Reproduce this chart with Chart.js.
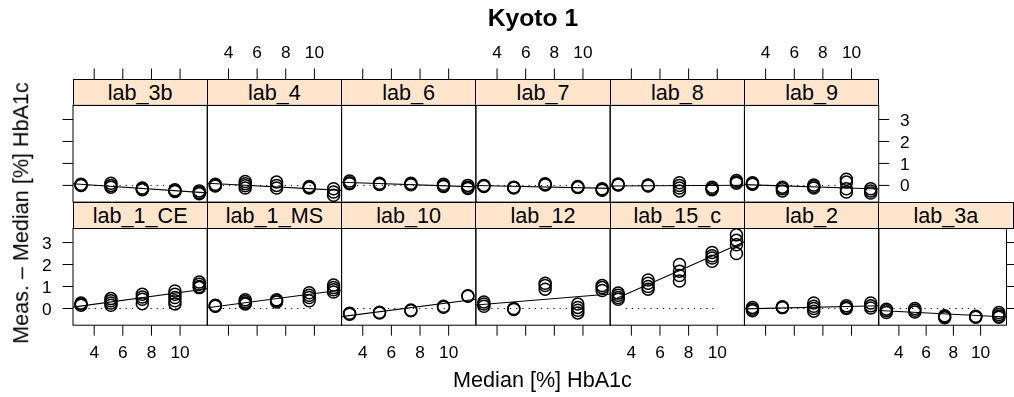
<!DOCTYPE html>
<html>
<head>
<meta charset="utf-8">
<script src="https://cdn.jsdelivr.net/npm/chart.js@4.4.1/dist/chart.umd.min.js"></script>
<style>
  html, body { margin: 0; padding: 0; background: #fff; }
  #fig { position: relative; width: 1014px; height: 397px; overflow: hidden;
         font-family: 'Liberation Sans', Arial, sans-serif; color: #000; }
  #fig canvas { position: absolute; left: 0; top: 0; }
  .strip { position: absolute; box-sizing: border-box; border: 1px solid #000;
           background: #ffe5cc; text-align: center; font-size: 21.6px; white-space: nowrap; }
  .lbl { position: absolute; white-space: nowrap; line-height: 1; }
</style>
</head>
<body>
<div id="fig"></div>
<script>
// median HbA1c of each sample (x position of the point groups)
const medianLevels = [3.08, 5.17, 7.36, 9.64, 11.34];
const xTicks = [4, 6, 8, 10];
const yTicks = [0, 1, 2, 3];

// measured - median, one inner list per sample
const lab_3b   = [[0.05, 0.02, 0.0], [0.1, 0.0, -0.08], [-0.12, -0.17, -0.2], [-0.2, -0.25, -0.28], [-0.25, -0.32, -0.38]];
const lab_4    = [[0.05, 0.0, -0.03], [0.18, 0.08, -0.02, -0.12], [0.15, 0.0, -0.12], [-0.05, -0.1, -0.12], [-0.15, -0.3, -0.45]];
const lab_6    = [[0.2, 0.12, 0.08], [0.1, 0.06, 0.04], [0.1, 0.05, 0.03], [0.05, -0.02, -0.05], [0.0, -0.08, -0.14]];
const lab_7    = [[0.0, -0.03, -0.05], [-0.08, -0.1, -0.12], [0.07, 0.04, 0.02], [-0.05, -0.08, -0.1], [-0.15, -0.2, -0.22]];
const lab_8    = [[0.06, 0.03, 0.02], [0.02, -0.01, -0.03], [0.12, 0.0, -0.12, -0.25], [-0.08, -0.15, -0.2], [0.22, 0.15, 0.1]];
const lab_9    = [[0.12, 0.08, 0.05], [-0.08, -0.15, -0.25], [0.02, -0.05, -0.12], [0.28, 0.15, -0.15, -0.3], [-0.15, -0.25, -0.35]];
const lab_1_CE = [[0.25, 0.2, 0.15], [0.45, 0.35, 0.25, 0.15], [0.65, 0.52, 0.42, 0.22], [0.8, 0.65, 0.5, 0.35, 0.21], [1.2, 1.1, 1.0, 0.95]];
const lab_1_MS = [[0.15, 0.12, 0.1], [0.4, 0.32, 0.25, 0.2], [0.4, 0.35, 0.3], [0.72, 0.6, 0.5, 0.35], [1.07, 0.95, 0.85, 0.75]];
const lab_10   = [[-0.22, -0.24, -0.26], [-0.17, -0.2], [-0.07, -0.1], [0.1, 0.06], [0.58, 0.56]];
const lab_12   = [[0.3, 0.2, 0.1], [0.0, -0.04], [1.15, 1.05, 0.88], [0.2, 0.05, -0.08, -0.2], [1.05, 0.95, 0.82]];
const lab_15_c = [[0.7, 0.6, 0.5, 0.42], [1.3, 1.15, 1.0, 0.88], [2.0, 1.7, 1.5, 1.25], [2.55, 2.4, 2.3, 2.15], [3.35, 3.1, 2.9, 2.5]];
const lab_2    = [[0.05, -0.03, -0.1], [0.08, 0.05, 0.04], [0.25, 0.1, 0.0, -0.12], [0.12, 0.05, 0.0], [0.25, 0.12, 0.02]];
const lab_3a   = [[-0.03, -0.1, -0.18], [0.0, -0.08, -0.16], [-0.33, -0.38, -0.42], [-0.35, -0.38, -0.4], [-0.18, -0.27, -0.35, -0.4]];

const topRowLabs    = ['lab_3b', 'lab_4', 'lab_6', 'lab_7', 'lab_8', 'lab_9'];
const bottomRowLabs = ['lab_1_CE', 'lab_1_MS', 'lab_10', 'lab_12', 'lab_15_c', 'lab_2', 'lab_3a'];
const labData = { lab_3b, lab_4, lab_6, lab_7, lab_8, lab_9,
                  lab_1_CE, lab_1_MS, lab_10, lab_12, lab_15_c, lab_2, lab_3a };

// panel scales and the dotted zero reference
const X_MIN = 2.52, X_MAX = 11.9, Y_MIN = -0.76, Y_MAX = 3.64;
const REF_FROM = 3.6, REF_TO = 10.0;

// layout (px)
const FIG_W = 1014, FIG_H = 397;
const PANEL_X0 = 73, PANEL_W = 134.29, PANEL_H = 96.7, STRIP_H = 26.4, STRIP_Y0 = 79;
const TICK = 10.5;
const FONT = '"Liberation Sans", Arial, sans-serif';

const fig = document.getElementById('fig');

function addLabel(text, css) {
  const d = document.createElement('div');
  d.className = 'lbl';
  d.textContent = text;
  Object.assign(d.style, css);
  fig.appendChild(d);
}

// simple least squares fit, like panel.lmline
function lmFit(pts) {
  const n = pts.length;
  const mx = pts.reduce((s, p) => s + p.x, 0) / n;
  const my = pts.reduce((s, p) => s + p.y, 0) / n;
  let sxy = 0, sxx = 0;
  pts.forEach(p => { sxy += (p.x - mx) * (p.y - my); sxx += (p.x - mx) ** 2; });
  const b = sxy / sxx;
  return { a: my - b * mx, b };
}

const latticePlugin = {
  id: 'lattice',
  afterDatasetsDraw(chart, args, opts) {
    const { ctx, chartArea: a, scales: { x, y } } = chart;
    ctx.save();
    ctx.strokeStyle = '#000';
    ctx.fillStyle = '#000';
    ctx.lineWidth = 1;
    ctx.strokeRect(a.left, a.top, a.right - a.left, a.bottom - a.top);

    ctx.font = '17.3px ' + FONT;
    ctx.textAlign = 'center';
    ctx.textBaseline = 'alphabetic';
    ctx.beginPath();
    if (opts.top) {
      const base = a.top - STRIP_H;
      xTicks.forEach(v => {
        const px = x.getPixelForValue(v);
        ctx.moveTo(px, base); ctx.lineTo(px, base - TICK);
        if (opts.top === 'labels') ctx.fillText(String(v), px, base - 20.7);
      });
    }
    if (opts.bottom) {
      xTicks.forEach(v => {
        const px = x.getPixelForValue(v);
        ctx.moveTo(px, a.bottom); ctx.lineTo(px, a.bottom + TICK);
        if (opts.bottom === 'labels') ctx.fillText(String(v), px, a.bottom + 33.1);
      });
    }
    if (opts.left) {
      yTicks.forEach(v => {
        const py = y.getPixelForValue(v);
        ctx.moveTo(a.left, py); ctx.lineTo(a.left - TICK, py);
        if (opts.left === 'labels') ctx.fillText(String(v), a.left - 26.3, py + 6.1);
      });
    }
    if (opts.right) {
      yTicks.forEach(v => {
        const py = y.getPixelForValue(v);
        ctx.moveTo(a.right, py); ctx.lineTo(a.right + TICK, py);
        if (opts.right === 'labels') ctx.fillText(String(v), a.right + 26, py + 6.1);
      });
    }
    ctx.stroke();
    ctx.restore();
  }
};

function makePanel(lab, row, col, axes) {
  const left = PANEL_X0 + col * PANEL_W;
  const stripTop = STRIP_Y0 + row * (STRIP_H + PANEL_H);
  const top = stripTop + STRIP_H;

  const strip = document.createElement('div');
  strip.className = 'strip';
  strip.textContent = lab;
  Object.assign(strip.style, {
    left: (left - 0.5) + 'px', top: (stripTop - 0.5) + 'px',
    width: (PANEL_W + 1) + 'px', height: (STRIP_H + 1) + 'px',
    lineHeight: (STRIP_H - 1) + 'px'
  });
  fig.appendChild(strip);

  const canvas = document.createElement('canvas');
  canvas.width = FIG_W; canvas.height = FIG_H;
  fig.appendChild(canvas);

  const pts = [];
  labData[lab].forEach((vals, i) => vals.forEach(v => pts.push({ x: medianLevels[i], y: v })));
  const fit = lmFit(pts);

  new Chart(canvas, {
    type: 'scatter',
    data: {
      datasets: [
        { data: pts, pointStyle: 'circle', pointRadius: 6, pointBorderWidth: 1.5,
          borderColor: '#000', backgroundColor: 'rgba(0,0,0,0)', showLine: false },
        { data: [{ x: X_MIN, y: fit.a + fit.b * X_MIN }, { x: X_MAX, y: fit.a + fit.b * X_MAX }],
          showLine: true, pointRadius: 0, borderColor: '#000', borderWidth: 1.1 },
        { data: [{ x: REF_FROM, y: 0 }, { x: REF_TO, y: 0 }],
          showLine: true, pointRadius: 0, borderColor: '#000', borderWidth: 1, borderDash: [1.2, 5] }
      ]
    },
    options: {
      responsive: false,
      animation: false,
      events: [],
      devicePixelRatio: 1,
      layout: { padding: { left, top, right: FIG_W - (left + PANEL_W), bottom: FIG_H - (top + PANEL_H) } },
      scales: {
        x: { type: 'linear', min: X_MIN, max: X_MAX, display: false },
        y: { type: 'linear', min: Y_MIN, max: Y_MAX, display: false }
      },
      plugins: { legend: { display: false }, tooltip: { enabled: false }, lattice: axes }
    },
    plugins: [latticePlugin]
  });
}

topRowLabs.forEach((lab, c) => makePanel(lab, 0, c, {
  top: c % 2 === 1 ? 'labels' : 'ticks',
  left: c === 0 ? 'ticks' : null,
  right: c === topRowLabs.length - 1 ? 'labels' : null
}));
bottomRowLabs.forEach((lab, c) => makePanel(lab, 1, c, {
  bottom: c % 2 === 0 ? 'labels' : 'ticks',
  left: c === 0 ? 'labels' : null,
  right: c === bottomRowLabs.length - 1 ? 'ticks' : null
}));

addLabel('Kyoto 1', { left: '533px', top: '5.8px', fontSize: '24.7px', fontWeight: 'bold', transform: 'translateX(-50%)' });
addLabel('Median [%] HbA1c', { left: '542.5px', top: '369px', fontSize: '21.6px', transform: 'translateX(-50%)' });
addLabel('Meas. \u2013 Median [%] HbA1c', { left: '20.5px', top: '213.3px', fontSize: '21.6px',
  transform: 'translate(-50%, -50%) rotate(-90deg)' });
</script>
</body>
</html>
